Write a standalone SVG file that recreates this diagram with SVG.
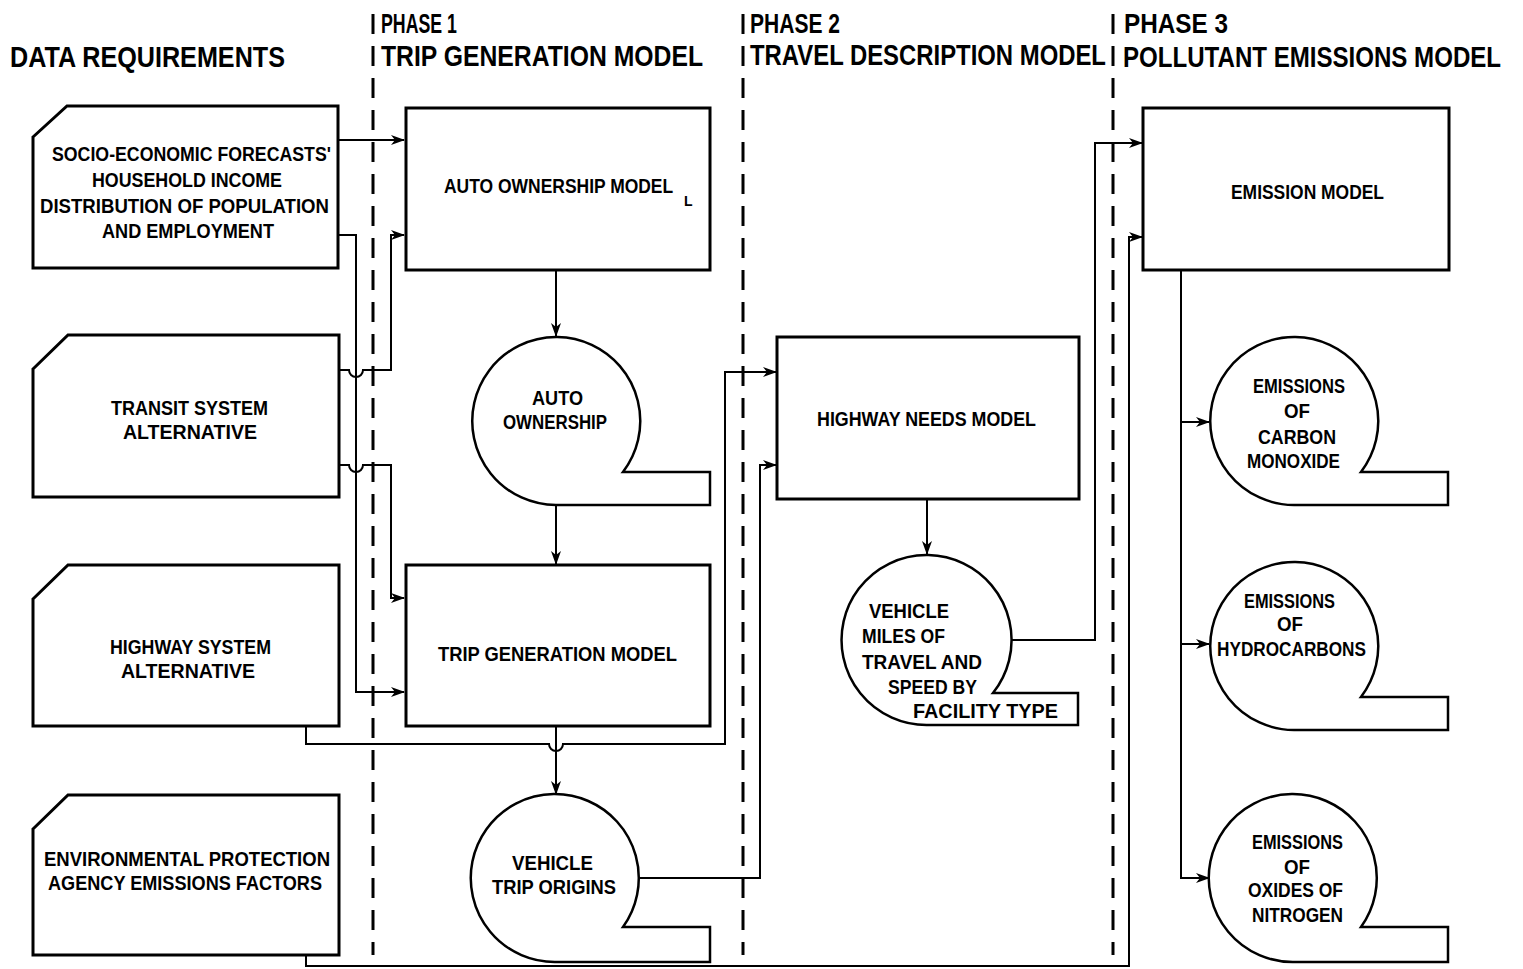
<svg xmlns="http://www.w3.org/2000/svg" width="1523" height="969" viewBox="0 0 1523 969">
<style>
.bg{fill:#fff}
.shape{fill:#fff;stroke:#000;stroke-width:3;stroke-linejoin:miter}
.circ{fill:#fff;stroke:#000;stroke-width:2.5;stroke-linejoin:miter}
.conn{fill:none;stroke:#000;stroke-width:2}
.phase{fill:none;stroke:#000;stroke-width:3;stroke-dasharray:20 12}
.t{font-family:"Liberation Sans",Arial,sans-serif;font-weight:bold;font-size:21px;fill:#000}
.h{font-family:"Liberation Sans",Arial,sans-serif;font-weight:bold;font-size:30px;fill:#000}
.h2{font-family:"Liberation Sans",Arial,sans-serif;font-weight:bold;font-size:28px;fill:#000}
.s{font-family:"Liberation Sans",Arial,sans-serif;font-weight:bold;font-size:14px;fill:#000}
</style>
<defs>
<marker id="ah" markerWidth="14" markerHeight="10" refX="13" refY="5" orient="auto" markerUnits="userSpaceOnUse">
<path d="M0,0 L14,5 L0,10 L4,5 Z" fill="#000"/>
</marker>
</defs>
<rect class="bg" x="0" y="0" width="1523" height="969"/>

<g id="phase-lines">
<line class="phase" x1="373" y1="14" x2="373" y2="955"/>
<line class="phase" x1="743" y1="14" x2="743" y2="955"/>
<line class="phase" x1="1113" y1="14" x2="1113" y2="955"/>
</g>

<g id="headers">
<text class="h" x="10" y="67" textLength="275" lengthAdjust="spacingAndGlyphs">DATA REQUIREMENTS</text>
<text class="h2" x="381" y="33" textLength="76" lengthAdjust="spacingAndGlyphs">PHASE 1</text>
<text class="h" x="381" y="66" textLength="322" lengthAdjust="spacingAndGlyphs">TRIP GENERATION MODEL</text>
<text class="h2" x="750" y="33" textLength="90" lengthAdjust="spacingAndGlyphs">PHASE 2</text>
<text class="h" transform="translate(750,65) scale(0.796,1)" x="0" y="0">TRAVEL DESCRIPTION MODEL</text>
<text class="h2" x="1124" y="33" textLength="104" lengthAdjust="spacingAndGlyphs">PHASE 3</text>
<text class="h" transform="translate(1123,67) scale(0.803,1)" x="0" y="0">POLLUTANT EMISSIONS MODEL</text>
</g>

<g id="connectors">
<path class="conn" d="M338,140 H404" marker-end="url(#ah)"/>
<path class="conn" d="M338,235 H356 V692 H404" marker-end="url(#ah)"/>
<path class="conn" d="M339,370 H349 a7,7 0 0 0 14,0 H391 V235 H404" marker-end="url(#ah)"/>
<path class="conn" d="M339,465 H349 a7,7 0 0 0 14,0 H391 V598 H404" marker-end="url(#ah)"/>
<path class="conn" d="M306,726 V744 H549 a7,7 0 0 0 14,0 H725 V372 H776" marker-end="url(#ah)"/>
<path class="conn" d="M640,878 H760 V465 H776" marker-end="url(#ah)"/>
<path class="conn" d="M556,270 V336" marker-end="url(#ah)"/>
<path class="conn" d="M556,505 V564" marker-end="url(#ah)"/>
<path class="conn" d="M556,726 V794" marker-end="url(#ah)"/>
<path class="conn" d="M927,499 V554" marker-end="url(#ah)"/>
<path class="conn" d="M1012,640 H1095 V143 H1142" marker-end="url(#ah)"/>
<path class="conn" d="M306,955 V966 H1129 V237 H1142" marker-end="url(#ah)"/>
<path class="conn" d="M1181,270 V878 H1209" marker-end="url(#ah)"/>
<path class="conn" d="M1181,422 H1209" marker-end="url(#ah)"/>
<path class="conn" d="M1181,644 H1209" marker-end="url(#ah)"/>
</g>

<g id="card-socio">
<path class="shape" d="M33,137 L67,106 L338,106 L338,268 L33,268 Z"/>
<text class="t" x="52" y="161" textLength="279" lengthAdjust="spacingAndGlyphs">SOCIO-ECONOMIC FORECASTS'</text>
<text class="t" x="92" y="187" textLength="190" lengthAdjust="spacingAndGlyphs">HOUSEHOLD INCOME</text>
<text class="t" x="40" y="213" textLength="289" lengthAdjust="spacingAndGlyphs">DISTRIBUTION OF POPULATION</text>
<text class="t" x="102" y="238" textLength="172" lengthAdjust="spacingAndGlyphs">AND EMPLOYMENT</text>
</g>

<g id="card-transit">
<path class="shape" d="M33,369 L68,335 L339,335 L339,497 L33,497 Z"/>
<text class="t" x="111" y="415" textLength="157" lengthAdjust="spacingAndGlyphs">TRANSIT SYSTEM</text>
<text class="t" x="123" y="439" textLength="134" lengthAdjust="spacingAndGlyphs">ALTERNATIVE</text>
</g>

<g id="card-highway">
<path class="shape" d="M33,599 L68,565 L339,565 L339,726 L33,726 Z"/>
<text class="t" x="110" y="654" textLength="161" lengthAdjust="spacingAndGlyphs">HIGHWAY SYSTEM</text>
<text class="t" x="121" y="678" textLength="134" lengthAdjust="spacingAndGlyphs">ALTERNATIVE</text>
</g>

<g id="card-epa">
<path class="shape" d="M33,829 L68,795 L339,795 L339,955 L33,955 Z"/>
<text class="t" x="44" y="866" textLength="286" lengthAdjust="spacingAndGlyphs">ENVIRONMENTAL PROTECTION</text>
<text class="t" x="48" y="890" textLength="274" lengthAdjust="spacingAndGlyphs">AGENCY EMISSIONS FACTORS</text>
</g>

<g id="box-auto-ownership-model">
<rect class="shape" x="406" y="108" width="304" height="162"/>
<text class="t" transform="translate(444,193) scale(0.832,1)" x="0" y="0">AUTO OWNERSHIP MODEL</text>
<text class="s" x="684" y="206">L</text>
</g>

<g id="store-auto-ownership">
<path class="circ" d="M556,505 A84,84 0 1 1 623,472 L710,472 L710,505 Z"/>
<text class="t" x="532" y="405" textLength="51" lengthAdjust="spacingAndGlyphs">AUTO</text>
<text class="t" x="503" y="429" textLength="104" lengthAdjust="spacingAndGlyphs">OWNERSHIP</text>
</g>

<g id="box-trip-generation-model">
<rect class="shape" x="406" y="565" width="304" height="161"/>
<text class="t" x="438" y="661" textLength="239" lengthAdjust="spacingAndGlyphs">TRIP GENERATION MODEL</text>
</g>

<g id="store-vehicle-trip-origins">
<path class="circ" d="M556,962 A84,84 0 1 1 623,927 L710,927 L710,962 Z"/>
<text class="t" x="512" y="870" textLength="81" lengthAdjust="spacingAndGlyphs">VEHICLE</text>
<text class="t" x="492" y="894" textLength="124" lengthAdjust="spacingAndGlyphs">TRIP ORIGINS</text>
</g>

<g id="box-highway-needs-model">
<rect class="shape" x="777" y="337" width="302" height="162"/>
<text class="t" x="817" y="426" textLength="219" lengthAdjust="spacingAndGlyphs">HIGHWAY NEEDS MODEL</text>
</g>

<g id="store-vmt">
<path class="circ" d="M927,725 A85,85 0 1 1 993,693 L1078,693 L1078,725 Z"/>
<text class="t" x="869" y="618" textLength="80" lengthAdjust="spacingAndGlyphs">VEHICLE</text>
<text class="t" x="862" y="643" textLength="83" lengthAdjust="spacingAndGlyphs">MILES OF</text>
<text class="t" x="862" y="669" textLength="120" lengthAdjust="spacingAndGlyphs">TRAVEL AND</text>
<text class="t" x="888" y="694" textLength="89" lengthAdjust="spacingAndGlyphs">SPEED BY</text>
<text class="t" x="913" y="718" textLength="145" lengthAdjust="spacingAndGlyphs">FACILITY TYPE</text>
</g>

<g id="box-emission-model">
<rect class="shape" x="1143" y="108" width="306" height="162"/>
<text class="t" x="1231" y="199" textLength="153" lengthAdjust="spacingAndGlyphs">EMISSION MODEL</text>
</g>

<g id="store-carbon-monoxide">
<path class="circ" d="M1294,505 A84,84 0 1 1 1361,472 L1448,472 L1448,505 Z"/>
<text class="t" x="1253" y="393" textLength="92" lengthAdjust="spacingAndGlyphs">EMISSIONS</text>
<text class="t" x="1284" y="418" textLength="26" lengthAdjust="spacingAndGlyphs">OF</text>
<text class="t" x="1258" y="444" textLength="78" lengthAdjust="spacingAndGlyphs">CARBON</text>
<text class="t" x="1247" y="468" textLength="93" lengthAdjust="spacingAndGlyphs">MONOXIDE</text>
</g>

<g id="store-hydrocarbons">
<path class="circ" d="M1294,730 A84,84 0 1 1 1361,697 L1448,697 L1448,730 Z"/>
<text class="t" x="1244" y="608" textLength="91" lengthAdjust="spacingAndGlyphs">EMISSIONS</text>
<text class="t" x="1277" y="631" textLength="26" lengthAdjust="spacingAndGlyphs">OF</text>
<text class="t" x="1217" y="656" textLength="149" lengthAdjust="spacingAndGlyphs">HYDROCARBONS</text>
</g>

<g id="store-oxides-of-nitrogen">
<path class="circ" d="M1294,962 A84,84 0 1 1 1361,927 L1448,927 L1448,962 Z"/>
<text class="t" x="1252" y="849" textLength="91" lengthAdjust="spacingAndGlyphs">EMISSIONS</text>
<text class="t" x="1284" y="874" textLength="26" lengthAdjust="spacingAndGlyphs">OF</text>
<text class="t" x="1248" y="897" textLength="95" lengthAdjust="spacingAndGlyphs">OXIDES OF</text>
<text class="t" x="1252" y="922" textLength="91" lengthAdjust="spacingAndGlyphs">NITROGEN</text>
</g>
</svg>
